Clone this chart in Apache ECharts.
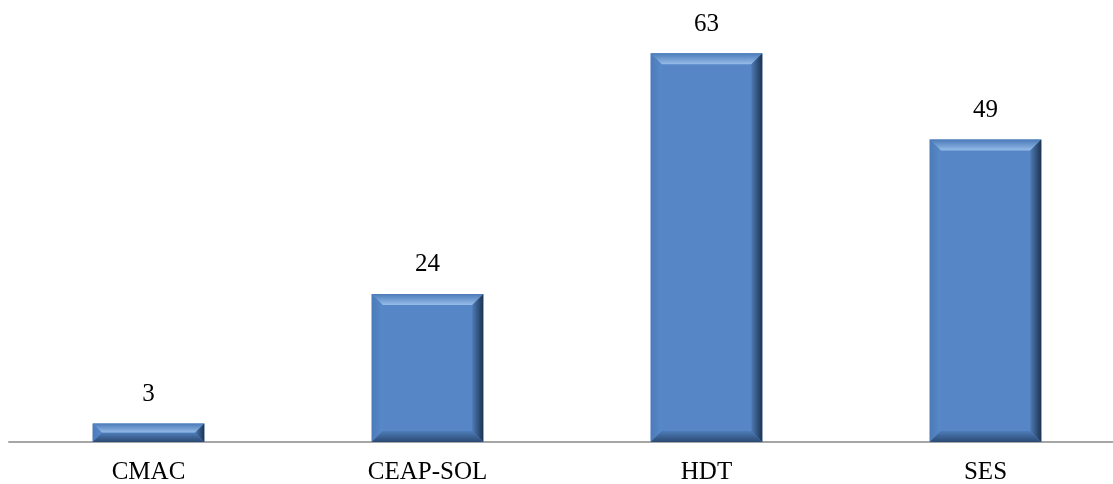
<!DOCTYPE html>
<html>
<head>
<meta charset="utf-8">
<script src="https://cdn.jsdelivr.net/npm/echarts@6/dist/echarts.min.js"></script>
<style>
  html, body { margin: 0; padding: 0; background: #ffffff; }
  #chart { width: 1113px; height: 484px; }
</style>
</head>
<body>
<div id="chart"></div>
<script>
// Programme categories and their counts
const categories = ['CMAC', 'CEAP-SOL', 'HDT', 'SES'];
const counts = [3, 24, 63, 49];

const FONT = '"Liberation Serif", "Times New Roman", serif';
const BASE = '#5686c5';

// Draws one bevelled bar with its value label above it
function renderBevelBar(params, api) {
  const idx = api.value(0);
  const val = api.value(1);
  const top = api.coord([idx, val]);
  const bottom = api.coord([idx, 0]);
  const w = api.size([1, 0])[0] * 0.4;
  const l = top[0] - w / 2, r = top[0] + w / 2;
  const t = top[1], b = bottom[1];
  const h = b - t;
  const bv = Math.min(11, h / 2);

  const lin = (x1, y1, x2, y2, c1, c2) => new echarts.graphic.LinearGradient(x1, y1, x2, y2, [
    { offset: 0, color: c1 }, { offset: 1, color: c2 }
  ]);

  return {
    type: 'group',
    children: [
      { type: 'rect', shape: { x: l, y: t, width: w, height: h },
        style: { fill: BASE } },
      // top bevel (highlight)
      { type: 'polygon', shape: { points: [[l, t], [r, t], [r - bv, t + bv], [l + bv, t + bv]] },
        style: { fill: lin(0, 0, 0, 1, '#4a7ab8', '#96bce9') } },
      // left bevel
      { type: 'polygon', shape: { points: [[l, t], [l + bv, t + bv], [l + bv, b - bv], [l, b]] },
        style: { fill: lin(0, 0, 1, 0, '#4b7bb9', '#5889c8') } },
      // right bevel (shade)
      { type: 'polygon', shape: { points: [[r, t], [r, b], [r - bv, b - bv], [r - bv, t + bv]] },
        style: { fill: lin(0, 0, 1, 0, '#4d7bb5', '#1c3350') } },
      // bottom bevel (shade)
      { type: 'polygon', shape: { points: [[l, b], [l + bv, b - bv], [r - bv, b - bv], [r, b]] },
        style: { fill: lin(0, 0, 0, 1, '#4e7cb8', '#2b4a74') } },
      { type: 'text', style: {
          x: top[0], y: t - 29, text: String(val), fill: '#000000',
          font: '25px ' + FONT, align: 'center', verticalAlign: 'middle' } }
    ]
  };
}

const chart = echarts.init(document.getElementById('chart'), null, { renderer: 'canvas' });
chart.setOption({
  animation: false,
  grid: { left: 9, top: 10, width: 1116, height: 432, containLabel: false, outerBoundsMode: 'none' },
  xAxis: {
    type: 'category',
    data: categories,
    axisLine: { show: true, lineStyle: { color: '#a6a6a6', width: 2 } },
    axisTick: { show: false },
    axisLabel: { color: '#000000', fontFamily: FONT, fontSize: 25, margin: 18 },
    z: 1
  },
  yAxis: {
    type: 'value', min: 0, max: 70,
    show: false,
    splitLine: { show: false }
  },
  series: [{
    type: 'custom',
    renderItem: renderBevelBar,
    data: counts.map((v, i) => [i, v]),
    encode: { x: 0, y: 1 },
    z: 3
  }]
});
</script>
</body>
</html>
